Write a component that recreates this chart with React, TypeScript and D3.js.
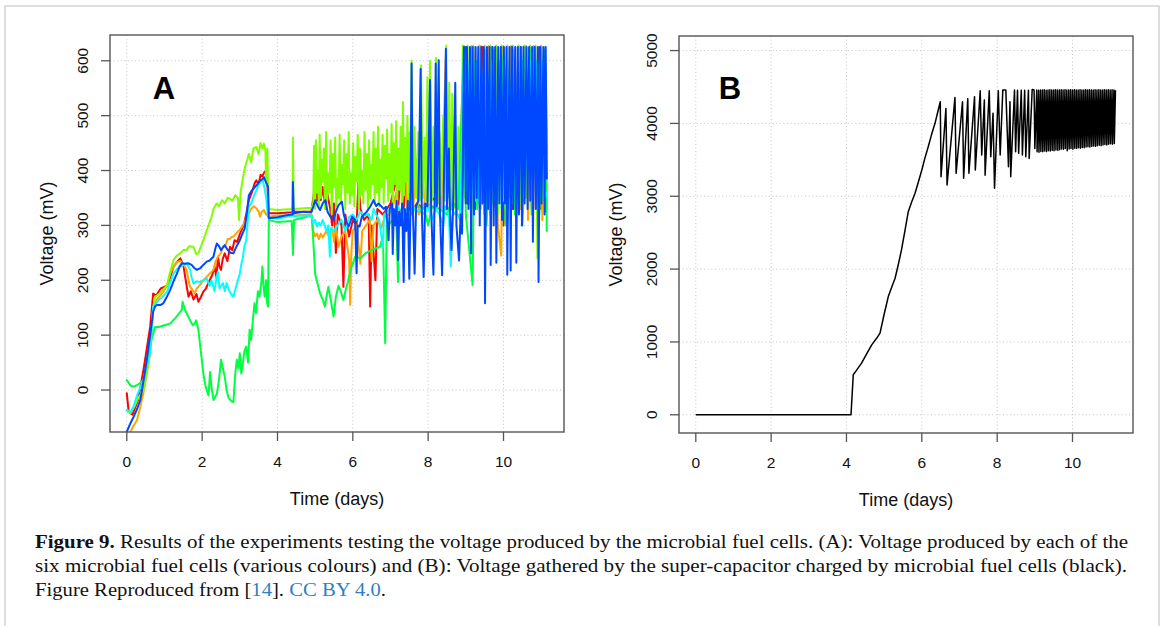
import React from "react";
import * as d3 from "d3";

type P = [number, number];

// ---------- Panel A: six microbial fuel cells (days, mV) ----------
const xTicks = [0, 2, 4, 6, 8, 10];
const yTicksA = [0, 100, 200, 300, 400, 500, 600];
const yTicksB = [0, 1000, 2000, 3000, 4000, 5000];

const redCell: P[] = [
  [0, -6], [0.05, -40], [0.15, -45], [0.3, -18], [0.45, 40], [0.62, 115], [0.7, 176], [0.78, 172], [0.9, 185], [1.07, 190],
  [1.15, 205], [1.24, 225], [1.35, 235], [1.42, 240], [1.5, 228], [1.55, 206], [1.6, 185], [1.64, 170], [1.7, 180], [1.77, 165],
  [1.85, 175], [1.9, 161], [1.97, 170], [2.03, 179], [2.1, 185], [2.2, 200], [2.27, 210], [2.33, 225], [2.38, 205], [2.42, 243],
  [2.46, 225], [2.5, 219], [2.55, 240], [2.6, 249], [2.67, 235], [2.74, 261], [2.8, 255], [2.86, 273], [2.93, 270], [3.0, 284],
  [3.1, 300], [3.17, 320], [3.24, 346], [3.32, 360], [3.4, 378], [3.44, 382], [3.5, 375], [3.55, 392], [3.6, 390], [3.66, 398],
  [3.72, 400], [3.76, 322], [4.0, 322], [4.4, 324], [4.42, 330], [4.45, 325], [4.9, 325], [4.95, 350], [5.0, 376], [5.05, 345],
  [5.1, 362], [5.15, 346], [5.2, 370], [5.28, 330], [5.32, 360], [5.4, 330], [5.45, 300], [5.5, 340], [5.55, 250], [5.6, 320],
  [5.7, 300], [5.75, 188], [5.8, 320], [5.9, 280], [6.0, 310], [6.1, 300], [6.15, 382], [6.2, 330], [6.3, 310], [6.42, 320],
  [6.46, 152], [6.5, 300], [6.6, 200], [6.65, 330], [6.8, 320], [7.0, 340], [7.17, 388], [7.2, 330], [7.3, 420], [7.35, 330],
  [7.48, 455], [7.52, 320], [7.7, 340], [7.9, 330], [8.1, 350], [8.3, 340], [8.5, 470], [8.58, 474], [8.62, 330], [8.7, 340],
  [8.9, 330], [9.0, 625], [9.05, 340], [9.2, 625], [9.25, 330], [9.45, 625], [9.5, 320], [9.7, 625], [9.75, 335], [9.95, 625],
  [10.0, 300], [10.2, 625], [10.25, 330], [10.45, 625], [10.5, 320], [10.7, 625], [10.75, 330], [10.95, 625], [11.0, 330],
  [11.1, 600], [11.13, 325],
];

const orangeCell: P[] = [
  [0.08, -80], [0.1, -76], [0.18, -65], [0.27, -55], [0.36, -30], [0.44, -6], [0.53, 30], [0.62, 67], [0.7, 149], [0.8, 165],
  [0.97, 179], [1.07, 190], [1.15, 212], [1.24, 225], [1.33, 233], [1.42, 235], [1.5, 230], [1.59, 219], [1.64, 200], [1.68, 188],
  [1.75, 182], [1.8, 176], [1.86, 185], [1.95, 192], [2.03, 200], [2.12, 206], [2.2, 212], [2.3, 219], [2.36, 235], [2.42, 243],
  [2.5, 250], [2.56, 262], [2.6, 261], [2.68, 275], [2.73, 275], [2.78, 279], [2.84, 280], [2.9, 285], [3.0, 292], [3.08, 300],
  [3.15, 310], [3.24, 322], [3.3, 330], [3.38, 335], [3.44, 331], [3.5, 325], [3.54, 316], [3.58, 325], [3.64, 328], [3.7, 320],
  [3.75, 316], [4.0, 318], [4.4, 318], [4.41, 325], [4.43, 318], [4.9, 320], [4.95, 290], [5.0, 280], [5.05, 285], [5.1, 275],
  [5.15, 285], [5.2, 278], [5.3, 290], [5.35, 282], [5.45, 295], [5.5, 270], [5.55, 300], [5.62, 260], [5.7, 280], [5.8, 290],
  [5.9, 240], [5.93, 155], [5.96, 250], [6.0, 290], [6.1, 300], [6.2, 230], [6.25, 290], [6.35, 300], [6.45, 310], [6.5, 235],
  [6.55, 300], [6.65, 310], [6.75, 295], [6.85, 315], [6.95, 320], [7.05, 330], [7.15, 360], [7.2, 320], [7.3, 330], [7.4, 410],
  [7.45, 320], [7.6, 330], [7.7, 420], [7.75, 320], [7.9, 340], [8.0, 450], [8.05, 330], [8.2, 335], [8.3, 460], [8.35, 330],
  [8.47, 610], [8.5, 330], [8.6, 335], [8.7, 320], [8.8, 330], [8.95, 627], [9.0, 340], [9.15, 627], [9.2, 330], [9.4, 627],
  [9.45, 340], [9.6, 627], [9.65, 320], [9.8, 627], [9.85, 300], [9.94, 245], [10.0, 627], [10.05, 330], [10.2, 627], [10.25, 340],
  [10.4, 627], [10.45, 330], [10.6, 627], [10.65, 310], [10.8, 627], [10.85, 330], [11.0, 627], [11.03, 310], [11.1, 600], [11.15, 330],
];

const chartreuseCell: P[] = [
  [0, -38], [0.1, -42], [0.2, -30], [0.3, -15], [0.44, 0], [0.55, 40], [0.62, 73], [0.7, 150], [0.75, 170], [0.85, 175],
  [0.95, 182], [1.07, 191], [1.15, 215], [1.24, 237], [1.33, 245], [1.42, 249], [1.5, 255], [1.59, 255], [1.65, 262], [1.77, 261],
  [1.84, 248], [1.9, 249], [1.97, 262], [2.03, 273], [2.12, 291], [2.17, 300], [2.25, 315], [2.3, 330], [2.38, 340], [2.45, 335],
  [2.53, 346], [2.6, 340], [2.67, 350], [2.73, 349], [2.8, 345], [2.88, 355], [2.95, 350], [2.98, 310], [3.02, 360], [3.08, 385],
  [3.14, 407], [3.2, 420], [3.24, 430], [3.3, 415], [3.36, 440], [3.44, 443], [3.5, 430], [3.55, 450], [3.6, 440], [3.64, 449],
  [3.68, 435], [3.7, 376], [3.73, 440], [3.76, 330], [4.0, 328], [4.4, 330], [4.41, 460], [4.43, 330], [4.9, 332],
  [4.95, 340], [4.97, 445], [5.0, 330], [5.02, 455], [5.04, 360], [5.07, 400], [5.1, 335], [5.12, 465], [5.15, 350], [5.18, 420],
  [5.2, 380], [5.23, 440], [5.26, 330], [5.29, 470], [5.32, 345], [5.35, 395], [5.38, 360], [5.41, 455], [5.44, 320], [5.47, 430],
  [5.5, 370], [5.53, 460], [5.56, 335], [5.59, 385], [5.62, 350], [5.65, 465], [5.68, 340], [5.71, 410], [5.74, 375], [5.77, 455],
  [5.8, 330], [5.83, 430], [5.86, 360], [5.89, 470], [5.92, 340], [5.95, 395], [5.98, 355], [6.01, 450], [6.04, 335], [6.07, 425],
  [6.1, 380], [6.13, 465], [6.16, 330], [6.19, 440], [6.22, 355], [6.25, 400], [6.28, 340], [6.31, 470], [6.34, 365], [6.37, 430],
  [6.4, 330], [6.43, 455], [6.46, 350], [6.49, 410], [6.52, 375], [6.55, 470], [6.58, 340], [6.61, 440], [6.64, 360], [6.67, 480],
  [6.7, 335], [6.73, 420], [6.76, 370], [6.79, 465], [6.82, 340], [6.85, 445], [6.88, 385], [6.91, 475], [6.94, 345], [6.97, 430],
  [7.0, 360], [7.03, 485], [7.06, 335], [7.09, 450], [7.12, 375], [7.15, 490], [7.18, 345], [7.21, 440], [7.24, 365], [7.27, 480],
  [7.3, 340], [7.33, 525], [7.36, 355], [7.39, 460], [7.42, 380], [7.45, 500], [7.48, 345], [7.51, 470], [7.53, 360], [7.56, 600],
  [7.6, 340], [7.64, 480], [7.68, 350], [7.74, 470], [7.78, 345], [7.81, 592], [7.86, 350], [7.9, 460], [7.94, 345], [7.98, 570],
  [8.02, 340], [8.05, 600], [8.1, 345], [8.14, 480], [8.18, 350], [8.21, 605], [8.26, 340], [8.3, 470], [8.34, 355], [8.4, 500],
  [8.44, 345], [8.48, 628], [8.52, 350], [8.56, 560], [8.6, 340], [8.64, 540], [8.68, 330], [8.72, 500], [8.76, 320], [8.8, 480],
  [8.85, 310], [8.92, 628], [8.98, 350], [9.05, 628], [9.1, 340], [9.2, 628], [9.25, 345], [9.35, 628], [9.4, 330], [9.5, 628],
  [9.55, 350], [9.65, 628], [9.7, 340], [9.8, 628], [9.85, 320], [9.95, 628], [10.0, 345], [10.1, 628], [10.15, 350], [10.25, 628],
  [10.3, 330], [10.4, 628], [10.45, 340], [10.55, 628], [10.6, 350], [10.7, 628], [10.75, 320], [10.85, 628], [10.9, 240],
  [11.0, 628], [11.05, 345], [11.12, 580], [11.15, 430],
];

const greenCell: P[] = [
  [0, 18], [0.1, 8], [0.18, 6], [0.3, 10], [0.44, 18], [0.55, 50], [0.65, 90], [0.75, 115], [0.85, 115], [1.0, 118],
  [1.15, 121], [1.3, 132], [1.46, 146], [1.48, 161], [1.55, 145], [1.6, 138], [1.68, 127], [1.75, 118], [1.8, 121], [1.84, 127],
  [1.9, 110], [1.95, 79], [2.0, 50], [2.03, 31], [2.08, 10], [2.12, 0], [2.17, -10], [2.21, 33], [2.25, 5], [2.3, -18],
  [2.35, -12], [2.39, -7], [2.45, 20], [2.5, 55], [2.55, 40], [2.6, 24], [2.65, 0], [2.7, -14], [2.77, -20], [2.83, -22],
  [2.88, 30], [2.92, 55], [2.96, 40], [3.0, 67], [3.04, 30], [3.08, 48], [3.12, 70], [3.17, 79], [3.22, 50], [3.26, 110],
  [3.3, 91], [3.35, 130], [3.39, 158], [3.43, 140], [3.48, 180], [3.52, 170], [3.57, 195], [3.6, 225], [3.63, 190], [3.66, 170],
  [3.7, 200], [3.72, 160], [3.75, 152], [3.77, 310], [4.0, 306], [4.38, 308], [4.41, 246], [4.44, 310], [4.91, 318],
  [4.96, 260], [5.0, 212], [5.06, 195], [5.13, 176], [5.2, 165], [5.26, 152], [5.3, 170], [5.35, 188], [5.4, 170], [5.45, 150],
  [5.49, 134], [5.55, 170], [5.62, 190], [5.68, 180], [5.75, 164], [5.82, 185], [5.88, 200], [5.95, 220], [6.06, 243], [6.2, 240],
  [6.35, 250], [6.5, 255], [6.6, 258], [6.72, 261], [6.8, 280], [6.86, 85], [6.9, 300], [6.95, 300], [7.05, 310], [7.15, 320],
  [7.2, 197], [7.23, 320], [7.4, 330], [7.55, 320], [7.7, 335], [7.9, 330], [8.0, 300], [8.1, 335], [8.3, 330], [8.5, 320],
  [8.6, 340], [8.8, 330], [8.95, 626], [9.0, 320], [9.18, 191], [9.25, 600], [9.3, 330], [9.5, 620], [9.55, 300], [9.75, 620],
  [9.8, 320], [10.0, 610], [10.05, 300], [10.25, 620], [10.3, 320], [10.45, 600], [10.5, 300], [10.7, 620], [10.75, 320],
  [10.9, 600], [10.95, 320], [11.1, 620], [11.15, 290],
];

const cyanCell: P[] = [
  [0, -36], [0.1, -40], [0.18, -30], [0.27, -10], [0.36, 5], [0.44, 18], [0.53, 45], [0.62, 67], [0.7, 152], [0.78, 158],
  [0.84, 164], [0.95, 170], [1.07, 179], [1.15, 195], [1.24, 212], [1.33, 220], [1.42, 225], [1.5, 228], [1.59, 231], [1.68, 219],
  [1.72, 205], [1.77, 194], [1.85, 198], [1.95, 197], [2.03, 200], [2.12, 203], [2.2, 190], [2.25, 200], [2.33, 180], [2.38, 205],
  [2.42, 215], [2.46, 185], [2.55, 195], [2.6, 180], [2.65, 195], [2.7, 183], [2.77, 175], [2.83, 170], [2.9, 188], [2.95, 200],
  [3.0, 212], [3.04, 230], [3.08, 240], [3.12, 262], [3.17, 273], [3.24, 334], [3.3, 340], [3.38, 355], [3.45, 365], [3.5, 375],
  [3.55, 378], [3.6, 385], [3.65, 370], [3.7, 350], [3.75, 315], [4.0, 312], [4.4, 318], [4.41, 330], [4.43, 317], [4.9, 318],
  [4.95, 305], [5.0, 310], [5.05, 298], [5.1, 305], [5.15, 300], [5.2, 310], [5.3, 290], [5.35, 300], [5.39, 243], [5.42, 295],
  [5.5, 290], [5.6, 300], [5.7, 310], [5.8, 290], [5.9, 315], [6.0, 320], [6.1, 310], [6.2, 325], [6.3, 318], [6.4, 320],
  [6.5, 310], [6.55, 330], [6.6, 322], [6.7, 310], [6.8, 260], [6.83, 320], [6.9, 325], [7.0, 330], [7.1, 320], [7.2, 335],
  [7.3, 318], [7.4, 330], [7.5, 320], [7.6, 335], [7.7, 325], [7.8, 330], [7.9, 320], [8.0, 335], [8.1, 310], [8.2, 330],
  [8.3, 320], [8.4, 300], [8.45, 335], [8.55, 320], [8.6, 225], [8.65, 320], [8.75, 325], [8.85, 310], [8.95, 600], [9.0, 360],
  [9.1, 600], [9.15, 350], [9.3, 600], [9.35, 340], [9.5, 610], [9.55, 360], [9.7, 600], [9.75, 345], [9.9, 600], [9.95, 330],
  [10.1, 600], [10.15, 355], [10.3, 600], [10.35, 340], [10.5, 600], [10.55, 350], [10.7, 600], [10.75, 365], [10.85, 600],
  [10.9, 340], [11.05, 600], [11.1, 350], [11.15, 360],
];

const blueCell: P[] = [
  [0, -76], [0.1, -60], [0.18, -49], [0.27, -35], [0.36, -18], [0.45, 20], [0.53, 55], [0.62, 100], [0.7, 143], [0.75, 152],
  [0.8, 155], [0.9, 155], [0.97, 158], [1.05, 168], [1.15, 182], [1.25, 200], [1.33, 212], [1.4, 225], [1.46, 231], [1.55, 230],
  [1.64, 231], [1.72, 228], [1.8, 222], [1.86, 219], [1.95, 222], [2.03, 228], [2.12, 234], [2.2, 236], [2.3, 243], [2.35, 258],
  [2.39, 267], [2.45, 262], [2.5, 255], [2.55, 260], [2.6, 264], [2.67, 256], [2.75, 250], [2.83, 249], [2.9, 260], [3.0, 273],
  [3.07, 285], [3.13, 294], [3.2, 330], [3.24, 355], [3.3, 362], [3.4, 370], [3.47, 375], [3.54, 382], [3.6, 384], [3.64, 388],
  [3.7, 378], [3.75, 370], [3.77, 313], [4.0, 315], [4.2, 318], [4.4, 320], [4.41, 379], [4.43, 322], [4.7, 325], [4.9, 324],
  [4.95, 334], [5.0, 346], [5.07, 335], [5.13, 328], [5.2, 340], [5.27, 346], [5.33, 325], [5.4, 316], [5.49, 310], [5.55, 325],
  [5.62, 337], [5.71, 343], [5.76, 320], [5.8, 310], [5.89, 298], [5.98, 316], [6.06, 310], [6.1, 213], [6.13, 300], [6.18, 298],
  [6.24, 316], [6.37, 325], [6.46, 334], [6.55, 346], [6.62, 335], [6.68, 340], [6.77, 334], [6.82, 330], [6.88, 334], [6.95, 273],
  [6.98, 330], [7.04, 340], [7.06, 248], [7.09, 330], [7.13, 300], [7.16, 345], [7.2, 237], [7.23, 325], [7.27, 300], [7.31, 340],
  [7.35, 197], [7.38, 330], [7.42, 290], [7.46, 345], [7.5, 203], [7.53, 330], [7.56, 595], [7.59, 340], [7.64, 212], [7.68, 335],
  [7.74, 345], [7.8, 585], [7.83, 330], [7.88, 206], [7.92, 340], [7.98, 335], [8.05, 565], [8.08, 330], [8.14, 210], [8.17, 340],
  [8.2, 595], [8.23, 335], [8.28, 601], [8.31, 330], [8.37, 209], [8.41, 340], [8.47, 622], [8.5, 330], [8.55, 440], [8.58, 320],
  [8.62, 255], [8.66, 330], [8.72, 560], [8.75, 300], [8.82, 236], [8.86, 320], [8.9, 285], [8.95, 625], [9.0, 340], [9.03, 625],
  [9.07, 330], [9.11, 625], [9.14, 249], [9.18, 625], [9.22, 320], [9.26, 625], [9.29, 350], [9.33, 625], [9.37, 300], [9.41, 625],
  [9.44, 340], [9.48, 625], [9.51, 158], [9.56, 625], [9.59, 330], [9.63, 625], [9.66, 228], [9.71, 625], [9.74, 300], [9.78, 625],
  [9.81, 232], [9.86, 625], [9.89, 340], [9.93, 625], [9.96, 310], [10.01, 625], [10.04, 340], [10.08, 625], [10.1, 210],
  [10.16, 625], [10.19, 218], [10.23, 625], [10.26, 330], [10.31, 625], [10.34, 232], [10.38, 625], [10.41, 320], [10.46, 625],
  [10.49, 300], [10.53, 625], [10.56, 340], [10.61, 625], [10.64, 330], [10.68, 625], [10.71, 345], [10.76, 625], [10.78, 270],
  [10.83, 625], [10.86, 330], [10.91, 625], [10.93, 197], [10.98, 625], [11.01, 340], [11.06, 625], [11.09, 320], [11.12, 625],
  [11.15, 385],
];

// ---------- Panel B: super-capacitor (days, mV) ----------
const capacitor: P[] = [
  [0, 0], [4.12, 0], [4.18, 549], [4.25, 600], [4.4, 709], [4.55, 850], [4.67, 960], [4.8, 1050], [4.89, 1120], [5.0, 1380],
  [5.11, 1623], [5.2, 1750], [5.29, 1875], [5.37, 2050], [5.46, 2263], [5.55, 2520], [5.64, 2789], [5.73, 2920], [5.82, 3041],
  [5.91, 3200], [6.0, 3361], [6.08, 3520], [6.17, 3680], [6.26, 3850], [6.35, 4001], [6.42, 4150], [6.49, 4298], [6.51, 3269],
  [6.64, 4206], [6.67, 3155], [6.88, 4357], [6.91, 3315], [7.08, 4298], [7.11, 3247], [7.22, 4340], [7.25, 3315], [7.4, 4367],
  [7.42, 3361], [7.55, 4449], [7.59, 3566], [7.66, 4320], [7.68, 3290], [7.79, 4449], [7.83, 3543], [7.89, 4138], [7.93, 3109],
  [8.03, 4449], [8.08, 3566], [8.15, 4458], [8.23, 4458], [8.3, 3406], [8.34, 4298], [8.36, 3269], [8.46, 4458], [8.49, 3612],
  [8.54, 4455], [8.57, 3589], [8.64, 4455], [8.67, 3566], [8.73, 4455], [8.76, 3543], [8.83, 4455], [8.85, 3520], [8.93, 4467],
  [8.98, 4460], [9.0, 3657], [9.05, 4460], [9.06, 3610], [9.1, 4455], [9.11, 3605], [9.15, 4460], [9.16, 3615], [9.2, 4458],
  [9.21, 3610], [9.25, 4462], [9.26, 3620], [9.3, 4455], [9.31, 3615], [9.35, 4460], [9.36, 3625], [9.4, 4462], [9.41, 3620],
  [9.45, 4458], [9.46, 3630], [9.5, 4460], [9.51, 3625], [9.55, 4462], [9.56, 3635], [9.6, 4460], [9.61, 3630], [9.65, 4458],
  [9.66, 3640], [9.7, 4462], [9.71, 3650], [9.75, 4460], [9.76, 3645], [9.8, 4462], [9.81, 3655], [9.85, 4458], [9.86, 3625],
  [9.9, 4460], [9.91, 3650], [9.95, 4462], [9.96, 3655], [10.0, 4460], [10.01, 3645], [10.05, 4462], [10.06, 3660], [10.1, 4458],
  [10.11, 3655], [10.15, 4460], [10.16, 3665], [10.2, 4462], [10.21, 3660], [10.25, 4460], [10.26, 3670], [10.3, 4458],
  [10.31, 3665], [10.35, 4462], [10.36, 3675], [10.4, 4460], [10.41, 3680], [10.45, 4462], [10.46, 3675], [10.5, 4458],
  [10.51, 3685], [10.55, 4460], [10.56, 3690], [10.6, 4462], [10.61, 3685], [10.65, 4460], [10.66, 3695], [10.7, 4462],
  [10.71, 3700], [10.75, 4458], [10.76, 3695], [10.8, 4460], [10.81, 3705], [10.85, 4462], [10.86, 3710], [10.9, 4460],
  [10.91, 3705], [10.95, 4462], [10.96, 3715], [11.0, 4460], [11.01, 3720], [11.05, 4462], [11.06, 3715], [11.1, 4460],
  [11.11, 3725], [11.14, 4455],
];

const seriesA = [
  { name: "red", data: redCell, color: "#ff0000" },
  { name: "orange", data: orangeCell, color: "#ffa500" },
  { name: "chartreuse", data: chartreuseCell, color: "#80ff00" },
  { name: "green", data: greenCell, color: "#00ff40" },
  { name: "cyan", data: cyanCell, color: "#00ffff" },
  { name: "blue", data: blueCell, color: "#0048ff" },
];

const SANS = "'Liberation Sans', Arial, Helvetica, sans-serif";
const SERIF = "'Liberation Serif', 'Times New Roman', serif";
const LINK = "#2f7fc1";

type Box = { x0: number; x1: number; y0: number; y1: number };

function Panel(props: {
  box: Box;
  yDomain: [number, number];
  yTicks: number[];
  label: string;
  labelX: number;
  id: string;
  children: (x: d3.ScaleLinear<number, number>, y: d3.ScaleLinear<number, number>) => React.ReactNode;
}) {
  const { box, yDomain, yTicks, label, labelX, id } = props;
  const x = d3.scaleLinear().domain([-0.446, 11.606]).range([box.x0, box.x1]);
  const y = d3.scaleLinear().domain(yDomain).range([box.y1, box.y0]);
  const cx = (box.x0 + box.x1) / 2;
  const cy = (box.y0 + box.y1) / 2;
  const axisColor = "#555";
  return (
    <g>
      <defs>
        <clipPath id={id}>
          <rect x={box.x0} y={box.y0} width={box.x1 - box.x0} height={box.y1 - box.y0} />
        </clipPath>
      </defs>
      <g stroke="#c4c4c4" strokeWidth={1} strokeDasharray="1,2.6">
        {xTicks.map((t) => (
          <line key={"gx" + t} x1={x(t)} x2={x(t)} y1={box.y0} y2={box.y1} />
        ))}
        {yTicks.map((t) => (
          <line key={"gy" + t} x1={box.x0} x2={box.x1} y1={y(t)} y2={y(t)} />
        ))}
      </g>
      <g clipPath={`url(#${id})`}>{props.children(x, y)}</g>
      <rect x={box.x0} y={box.y0} width={box.x1 - box.x0} height={box.y1 - box.y0} fill="none" stroke={axisColor} strokeWidth={1.4} />
      <g stroke={axisColor} strokeWidth={1.3}>
        {xTicks.map((t) => (
          <line key={"tx" + t} x1={x(t)} x2={x(t)} y1={box.y1} y2={box.y1 + 9} />
        ))}
        {yTicks.map((t) => (
          <line key={"ty" + t} x1={box.x0} x2={box.x0 - 9} y1={y(t)} y2={y(t)} />
        ))}
      </g>
      <g fontFamily={SANS} fontSize={15.5} fill="#111">
        {xTicks.map((t) => (
          <text key={"lx" + t} x={x(t)} y={box.y1 + 35} textAnchor="middle">
            {t}
          </text>
        ))}
        {yTicks.map((t) => (
          <text key={"ly" + t} transform={`translate(${box.x0 - 22},${y(t)}) rotate(-90)`} textAnchor="middle">
            {t}
          </text>
        ))}
      </g>
      <text x={cx} y={box.y1 + 73} textAnchor="middle" fontFamily={SANS} fontSize={18} fill="#111">
        Time (days)
      </text>
      <text transform={`translate(${box.x0 - 57},${cy}) rotate(-90)`} textAnchor="middle" fontFamily={SANS} fontSize={18} fill="#111">
        Voltage (mV)
      </text>
      <text x={labelX} y={99} textAnchor="middle" fontFamily={SANS} fontWeight="bold" fontSize={31} fill="#000">
        {label}
      </text>
    </g>
  );
}

export default function App() {
  const boxA: Box = { x0: 110, x1: 564, y0: 35, y1: 432 };
  const boxB: Box = { x0: 679, x1: 1133, y0: 36, y1: 433 };
  return (
    <svg width={1165} height={626} style={{ position: "absolute", left: 0, top: 0, background: "#fff" }}>
      <rect x={0} y={0} width={1165} height={626} fill="#fff" />
      <rect x={5} y={6} width={1154} height={700} fill="none" stroke="#c8c8c8" strokeWidth={1.2} />
      <Panel box={boxA} yDomain={[-76.5, 647]} yTicks={yTicksA} label="A" labelX={164} id="clipA">
        {(x, y) => {
          const line = d3
            .line<P>()
            .x((d) => x(d[0]))
            .y((d) => y(d[1]));
          return seriesA.map((s) => (
            <path key={s.name} d={line(s.data) || ""} fill="none" stroke={s.color} strokeWidth={2} strokeLinejoin="round" strokeLinecap="round" />
          ));
        }}
      </Panel>
      <Panel box={boxB} yDomain={[-250, 5200]} yTicks={yTicksB} label="B" labelX={730} id="clipB">
        {(x, y) => {
          const line = d3
            .line<P>()
            .x((d) => x(d[0]))
            .y((d) => y(d[1]));
          return <path d={line(capacitor) || ""} fill="none" stroke="#000" strokeWidth={1.5} strokeLinejoin="round" />;
        }}
      </Panel>
      <g fontFamily={SERIF} fontSize={18} fill="#111">
        <text x={35} y={548} textLength={1093} lengthAdjust="spacingAndGlyphs">
          <tspan fontWeight="bold">Figure 9.</tspan>
          {" Results of the experiments testing the voltage produced by the microbial fuel cells. (A): Voltage produced by each of the"}
        </text>
        <text x={35} y={572} textLength={1092} lengthAdjust="spacingAndGlyphs">
          six microbial fuel cells (various colours) and (B): Voltage gathered by the super-capacitor charged by microbial fuel cells (black).
        </text>
        <text x={35} y={596} textLength={351} lengthAdjust="spacingAndGlyphs">
          {"Figure Reproduced from ["}
          <tspan fill={LINK}>14</tspan>
          {"]. "}
          <tspan fill={LINK}>CC BY 4.0</tspan>
          {"."}
        </text>
      </g>
    </svg>
  );
}
